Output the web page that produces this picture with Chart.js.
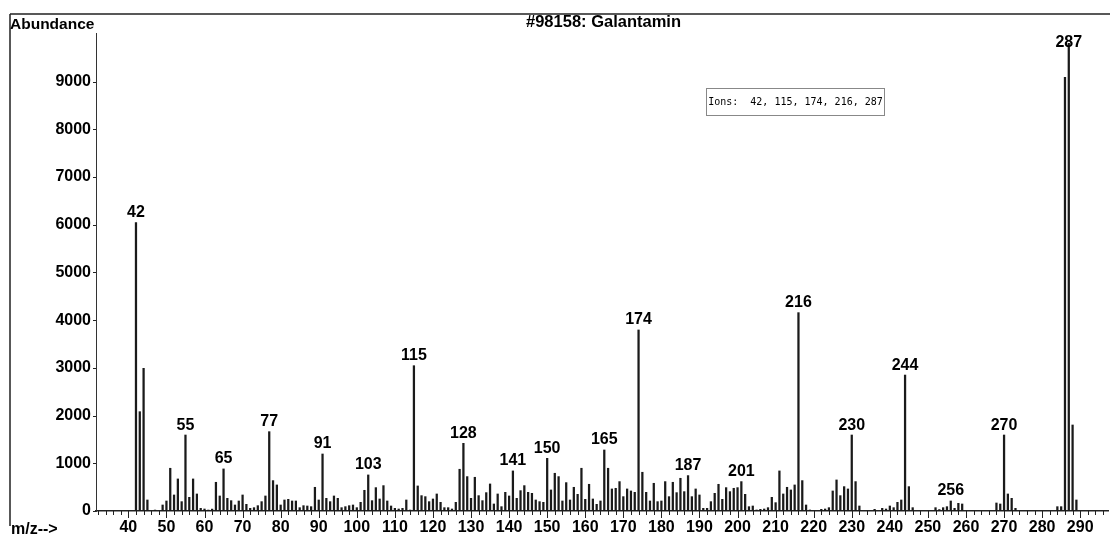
<!DOCTYPE html>
<html>
<head>
<meta charset="utf-8">
<script src="https://cdn.jsdelivr.net/npm/chart.js@4"></script>
<style>
  body{margin:0;background:#fff;font-family:"Liberation Sans",Arial,sans-serif;}
  #wrap{position:relative;width:1110px;height:538px;overflow:hidden;}
  canvas{position:absolute;left:0;top:0;}
  .txt{position:absolute;color:#000;white-space:nowrap;line-height:1;font-weight:bold;}
  #ions{position:absolute;left:706px;top:88px;width:177px;height:26px;border:1px solid #888;
        font:10px "DejaVu Sans Mono",monospace;line-height:26px;text-align:center;color:#000;}
</style>
</head>
<body>
<div id="wrap">
  <canvas id="ms" width="1110" height="538"></canvas>
  <div class="txt" style="left:10px;top:16px;font-size:15.5px;">Abundance</div>
  <div class="txt" style="left:526px;top:13px;font-size:16.5px;">#98158: Galantamin</div>
  <div class="txt" style="left:11px;top:521px;font-size:16px;">m/z--&gt;</div>
  <div id="ions">Ions:&nbsp; 42, 115, 174, 216, 287</div>
</div>
<script>
// m/z and abundance
const mz = [42,43,44,45,47,49,50,51,52,53,54,55,56,57,58,59,60,61,62,63,64,65,66,67,68,69,70,
  71,72,73,74,75,76,77,78,79,80,81,82,83,84,85,86,87,88,89,90,91,92,93,94,95,96,97,98,99,100,
  101,102,103,104,105,106,107,108,109,110,111,112,113,114,115,116,117,118,119,120,121,122,123,124,125,126,127,128,129,130,
  131,132,133,134,135,136,137,138,139,140,141,142,143,144,145,146,147,148,149,150,151,152,153,154,155,156,157,158,159,160,
  161,162,163,164,165,166,167,168,169,170,171,172,173,174,175,176,177,178,179,180,181,182,183,184,185,186,187,188,189,190,
  191,192,193,194,195,196,197,198,199,200,201,202,203,204,205,206,207,208,209,210,211,212,213,214,215,216,217,218,219,
  222,223,224,225,226,227,228,229,230,231,232,236,238,239,240,241,242,243,244,245,246,
  252,253,254,255,256,257,258,259,268,269,270,271,272,273,284,285,286,287,288,289];
const abundance = [6044,2082,2991,231,20,126,210,896,336,672,196,1593,287,672,357,56,42,20,40,602,315,882,266,217,126,210,336,
  140,56,70,112,196,315,1663,637,546,126,231,245,210,210,70,112,105,91,497,231,1195,266,196,315,266,70,91,112,126,70,
  182,434,756,217,490,252,532,210,105,56,42,56,231,20,3046,525,322,301,196,252,357,182,70,70,42,182,875,1419,721,266,
  707,322,217,385,567,147,357,91,392,315,840,266,427,532,392,371,231,196,182,1104,441,791,721,210,595,231,497,350,896,245,
  560,252,140,210,1279,896,462,476,616,301,462,420,392,3795,812,392,210,581,196,210,616,301,602,385,686,406,742,301,462,336,
  56,56,196,371,560,245,490,406,476,490,616,350,91,105,21,35,42,70,287,175,840,357,497,441,546,4158,637,126,21,
  35,42,70,420,651,322,511,462,1593,616,105,35,56,42,105,70,182,231,2850,511,70,
  70,30,70,91,210,56,161,147,168,147,1593,357,266,56,91,91,9092,9804,1803,231];
const peakLabels = [42,55,65,77,91,103,115,128,141,150,165,174,187,201,216,230,244,256,270,287];
const xTicks = [40,50,60,70,80,90,100,110,120,130,140,150,160,170,180,190,200,210,220,230,240,250,260,270,280,290];
const yTicks = [0,1000,2000,3000,4000,5000,6000,7000,8000,9000];

const FONT = '"Liberation Sans", Arial, sans-serif';

const decor = {
  id:"decor",
  afterDraw(chart){
    const ctx = chart.ctx, xs = chart.scales.x, ys = chart.scales.y, a = chart.chartArea;
    ctx.save();
    // outer frame (top + left)
    ctx.strokeStyle = "#222"; ctx.lineWidth = 1.5;
    ctx.beginPath(); ctx.moveTo(10,14); ctx.lineTo(1110,14); ctx.moveTo(10,14); ctx.lineTo(10,526); ctx.stroke();
    // x ticks, minor every 2, major every 10
    ctx.lineWidth = 1;
    ctx.beginPath();
    for(let v=32; v<=296; v+=2){
      const px = Math.round(xs.getPixelForValue(v))+0.5;
      ctx.moveTo(px,a.bottom); ctx.lineTo(px,a.bottom+(v%10===0?7:4));
    }
    yTicks.forEach(v=>{ const py = Math.round(ys.getPixelForValue(v))+0.5; ctx.moveTo(a.left-3,py); ctx.lineTo(a.left,py); });
    ctx.stroke();
    // peak labels
    ctx.fillStyle = "#000"; ctx.font = "bold 16px "+FONT; ctx.textAlign = "center"; ctx.textBaseline = "alphabetic";
    peakLabels.forEach(m=>{
      const v = abundance[mz.indexOf(m)];
      const px = xs.getPixelForValue(m);
      const py = Math.max(ys.getPixelForValue(v)-5.5, 47);
      ctx.fillText(String(m), px, py);
    });
    ctx.restore();
  }
};

new Chart(document.getElementById("ms"),{
  type:"bar",
  data:{datasets:[{data:mz.map((m,i)=>({x:m,y:abundance[i]})),backgroundColor:"#1a1a1a",barThickness:1.6,borderWidth:0}]},
  options:{
    responsive:false, animation:false, devicePixelRatio:1,
    layout:{padding:{left:0,top:33,right:2,bottom:0}},
    plugins:{legend:{display:false},tooltip:{enabled:false}},
    scales:{
      x:{type:"linear",min:31.5,max:297.3,offset:false,
        grid:{display:false,drawTicks:false},
        border:{display:true,color:"#222",width:1.5},
        afterBuildTicks:s=>{s.ticks = xTicks.map(v=>({value:v}));},
        afterFit:s=>{s.height = 27;},
        ticks:{color:"#000",font:{family:FONT,size:16,weight:"bold"},padding:7,autoSkip:false,maxRotation:0,
          callback:v=>String(v)}},
      y:{min:0,max:10020,
        grid:{display:false,drawTicks:false},
        border:{display:true,color:"#333",width:1},
        afterBuildTicks:s=>{s.ticks = yTicks.map(v=>({value:v}));},
        afterFit:s=>{s.width = 96;},
        ticks:{color:"#000",font:{family:FONT,size:16,weight:"bold"},padding:5,callback:v=>String(v)}}
    }
  },
  plugins:[decor]
});
</script>
</body>
</html>
